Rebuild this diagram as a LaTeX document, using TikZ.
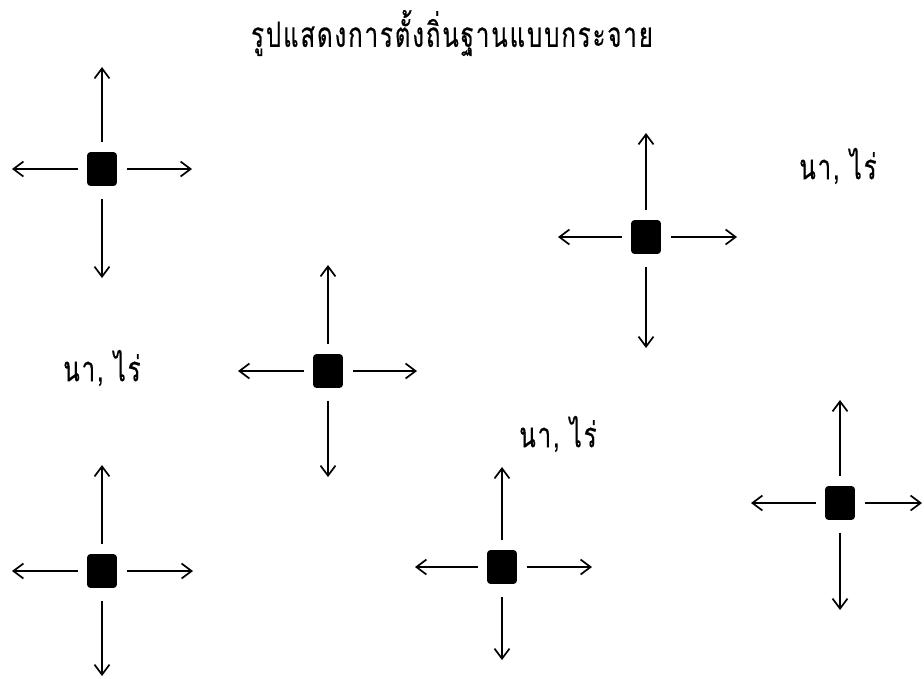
\documentclass[tikz,border=0pt]{standalone}
\usepackage{fontspec}
\newfontfamily\thaifont[Script=Thai,LetterSpace=8,FakeBold=0.5]{Loma}
\usetikzlibrary{arrows.meta}
\newcommand{\tallthai}[1]{\scalebox{1}[1.45]{\thaifont\fontsize{24}{28}\selectfont #1}}
\tikzset{
  hut/.style={draw=black, fill=black, rounded corners=3pt, minimum width=29pt, minimum height=33pt, inner sep=0pt, line width=0.8pt},
  arr/.style={line width=1.8pt, -{Straight Barb[length=10pt,width=15pt,line width=1.7pt]}},
  lbl/.style={inner sep=0pt},
}
\begin{document}
\begin{tikzpicture}[x=1pt,y=-1pt]
\useasboundingbox[fill=white] (0,0) rectangle (924,678);
\node[lbl] (title) at (452,33) {\tallthai{รูปแสดงการตั้งถิ่นฐานแบบกระจาย}};
\node[lbl] (l1) at (838,166) {\tallthai{นา, ไร่}};
\node[lbl] (l2) at (102,368) {\tallthai{นา, ไร่}};
\node[lbl] (l3) at (558,434) {\tallthai{นา, ไร่}};
% crosses
\foreach \n/\x/\y/\u/\d/\l/\r in {1/102/169/67/278/12/192, 2/646/237/133/348/558/737, 3/328/371/265/477/238/417, 4/102/571/465/676/12/193, 5/502/567/467/660/415/592, 6/840/503/400/610/751/922}{
  \node[hut] (s\n) at (\x,\y) {};
  \coordinate (s\n u) at (\x,\u);
  \coordinate (s\n d) at (\x,\d);
  \coordinate (s\n l) at (\l,\y);
  \coordinate (s\n r) at (\r,\y);
  \draw[arr, shorten <=10pt] (s\n.north) -- (s\n u);
  \draw[arr, shorten <=13pt] (s\n.south) -- (s\n d);
  \draw[arr, shorten <=9pt] (s\n.west) -- (s\n l);
  \draw[arr, shorten <=10pt] (s\n.east) -- (s\n r);
}
\end{tikzpicture}
\end{document}
